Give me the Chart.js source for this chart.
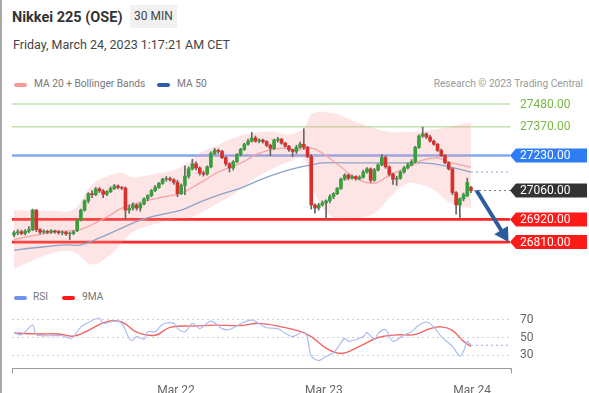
<!DOCTYPE html>
<html>
<head>
<meta charset="utf-8">
<script src="https://cdn.jsdelivr.net/npm/chart.js@4.4.0/dist/chart.umd.min.js"></script>
<style>
body { margin: 0; background: #fff; font-family: Roboto, "Noto Sans", Arial, sans-serif; }
#wrap { position: relative; width: 589px; height: 393px; overflow: hidden; }
#edge { position: absolute; left: 0; top: 0; width: 2px; height: 393px; background: #a8a8a8; }
.title { position: absolute; left: 12px; top: 9px; font-size: 14.5px; font-weight: bold; color: #333; }
.tf { position: absolute; left: 130px; top: 5px; width: 47px; height: 23px; line-height: 23px; background: #f1f1f1; font-size: 12px; color: #444; text-align: center; }
.date { position: absolute; left: 13px; top: 37px; font-size: 12.5px; color: #444; }
.lg { position: absolute; font-size: 10.2px; color: #777; white-space: nowrap; }
.sw { position: absolute; width: 13px; height: 4px; border-radius: 2px; }
.research { position: absolute; right: 6px; top: 78px; font-size: 10.2px; color: #999; }
canvas { position: absolute; left: 0; }
</style>
</head>
<body>
<div id="wrap">
  <div id="edge"></div>
  <div class="title">Nikkei 225 (OSE)</div>
  <div class="tf">30 MIN</div>
  <div class="date">Friday, March 24, 2023 1:17:21 AM CET</div>
  <div class="sw" style="left:14px;top:83px;background:#f89a9a"></div>
  <div class="lg" style="left:34px;top:78px;">MA 20 + Bollinger Bands</div>
  <div class="sw" style="left:157px;top:83px;background:#2f5ea8"></div>
  <div class="lg" style="left:177px;top:78px;">MA 50</div>
  <div class="research">Research © 2023 Trading Central</div>
  <canvas id="priceChart" width="589" height="180" style="top:95px"></canvas>
  <div class="sw" style="left:14px;top:296px;background:#6f93ee"></div>
  <div class="lg" style="left:33px;top:291px;">RSI</div>
  <div class="sw" style="left:62px;top:296px;background:#ff1a1a"></div>
  <div class="lg" style="left:82px;top:291px;">9MA</div>
  <canvas id="rsiChart" width="589" height="93" style="top:300px"></canvas>
</div>
<script>
// 30 min candles, index 0 = first bar on the chart
var opens = [26845,26855,26860,26852,26862,26870,26965,26870,26858,26862,26858,26864,26860,26856,26858,26850,26852,26866,26918,26965,
  27010,27045,27040,27068,27058,27042,27055,27070,27082,27075,27072,26965,26975,26990,26975,26995,27020,27035,27060,27075,
  27095,27115,27118,27112,27100,27045,27085,27130,27165,27190,27170,27145,27140,27175,27240,27255,27250,27220,27190,27170,
  27200,27235,27260,27285,27300,27315,27300,27305,27298,27280,27265,27305,27310,27290,27275,27258,27250,27270,27285,27270,
  27225,26990,26975,26990,27000,27010,27030,27045,27070,27115,27135,27120,27128,27118,27125,27150,27165,27110,27160,27185,
  27220,27175,27140,27115,27120,27150,27170,27185,27200,27270,27325,27335,27320,27300,27285,27255,27230,27195,27165,27050,
  26990,27020,27035,27075];
var highs = [26865,26870,26868,26870,26885,26970,26968,26875,26870,26868,26870,26868,26866,26864,26862,26858,26866,26922,26970,27015,
  27050,27060,27075,27075,27065,27060,27078,27090,27088,27080,27078,26990,27000,26995,27000,27025,27040,27065,27085,27100,
  27120,27128,27125,27118,27110,27092,27180,27175,27212,27200,27175,27155,27180,27248,27265,27262,27255,27225,27195,27205,
  27240,27265,27290,27310,27342,27325,27312,27310,27302,27285,27310,27318,27312,27295,27280,27262,27280,27295,27360,27275,
  27235,26995,26998,27010,27015,27040,27050,27075,27120,27142,27140,27135,27132,27132,27158,27172,27170,27168,27190,27235,
  27228,27180,27145,27130,27155,27178,27192,27210,27275,27330,27368,27340,27328,27305,27290,27262,27235,27200,27170,27055,
  27025,27048,27120,27080];
var lows = [26835,26845,26845,26845,26855,26865,26860,26850,26852,26850,26852,26852,26848,26845,26842,26822,26846,26860,26912,26960,
  27000,27025,27035,27050,27025,27035,27050,27065,27068,27065,26920,26950,26965,26965,26960,26990,27010,27030,27055,27070,
  27090,27105,27105,27090,27030,27040,27040,27120,27160,27160,27135,27130,27135,27170,27235,27240,27215,27180,27150,27160,
  27195,27230,27255,27280,27295,27295,27292,27290,27272,27230,27260,27295,27285,27270,27250,27225,27240,27265,27260,27220,
  26970,26950,26965,26985,26920,27000,27020,27040,27065,27110,27112,27115,27110,27112,27120,27145,27100,27105,27155,27180,
  27168,27130,27090,27085,27115,27145,27165,27180,27195,27265,27318,27312,27295,27280,27250,27225,27190,27160,27040,26945,
  26925,27010,27030,27050];
var closes = [26855,26860,26852,26862,26870,26965,26870,26858,26862,26858,26864,26860,26856,26858,26850,26852,26860,26918,26965,27010,
  27045,27040,27068,27058,27042,27055,27070,27082,27075,27072,26965,26975,26990,26975,26995,27020,27035,27060,27075,27095,
  27115,27118,27112,27100,27045,27085,27130,27165,27190,27170,27145,27140,27175,27240,27255,27250,27220,27190,27170,27200,
  27235,27260,27285,27300,27315,27300,27305,27298,27280,27265,27305,27310,27290,27275,27258,27250,27270,27285,27270,27225,
  26990,26975,26990,27000,27010,27030,27045,27070,27115,27135,27120,27128,27118,27125,27150,27165,27110,27160,27185,27220,
  27175,27140,27115,27120,27150,27170,27185,27200,27270,27325,27335,27320,27300,27285,27255,27230,27195,27165,27050,26990,
  27020,27040,27100,27060];

// moving averages and bands, read at chosen bar indexes
var ma20Idx = [0,5,12,16,18,21,26,29,34,39,45,50,55,61,66,72,76,80,83,88,92,97,101,106,110,114,117,123];
var ma20Vals = [26822,26840,26862,26865,26872,26894,26942,26975,27004,27024,27048,27096,27150,27193,27242,27266,27257,27266,27242,27174,27120,27096,27135,27174,27208,27218,27198,27174];
var ma50Idx = [0,5,14,18,23,29,34,39,45,50,55,61,66,72,77,80,83,92,101,110,115,123];
var ma50Vals = [26771,26781,26796,26796,26830,26878,26917,26941,26965,27004,27038,27072,27111,27150,27174,27184,27194,27194,27194,27194,27184,27150];
var bandIdx = [0,10,16,21,26,29,32,39,43,47,50,55,59,64,70,74,78,80,82,83,86,88,92,97,101,105,108,113,117,119,123];
var bandUpper = [26965,26962,26968,27087,27135,27145,27125,27145,27160,27198,27242,27281,27315,27340,27345,27332,27363,27430,27442,27442,27435,27425,27393,27363,27345,27343,27345,27355,27370,27378,27388];
var bandLower = [26679,26754,26762,26701,26749,26805,26859,26903,26920,26926,26950,27000,27040,27110,27170,27200,27215,27087,27010,26975,26927,26925,26927,26950,27024,27087,27096,27063,27004,26990,26975];

// RSI panel
var rsiIdx = [0,2,5,6,9,13,15,16,18,20,23,24,27,29,31,32,33,35,36,38,40,43,44,46,48,50,53,56,58,61,64,66,68,71,73,75,78,79,80,82,84,86,87,89,90,92,94,95,97,98,100,102,105,107,109,111,113,115,118,120,121,122,123];
var rsiVals = [55.5,53,64,53,52,52,49,51,62,67,72,65.6,68.5,66,49,47,51,48,56.5,56.5,65,66,60,56.5,66,60,68.5,60,59,65.6,70,65.6,61,60,54.7,51,56.5,49,29,24,28.5,33,38,49,45.6,47.5,51,55.5,47.5,54.7,59,45.6,53,56.5,64,67.5,62,51,40,29,34.7,45.6,41];
var ma9Idx = [0,7,12,16,20,25,29,33,38,42,49,54,61,66,72,77,80,84,88,93,98,103,108,112,115,118,121,123];
var ma9Vals = [55,54,54,51.5,58,68,67.5,56,52.5,61.5,63,64,63.5,66,62,57,51,38,32,40,50,53,53.5,60,62,58,45.6,40];
var rsiLevels = [30, 50, 70];

// key levels
var resistances = [27480, 27370];
var pivot = 27230;
var supports = [26920, 26810];
var lastPrice = 27060;
var targetPrice = 26810;

// date ticks (bar index of midnight)
var tickIndex = [43.6, 83.4, 123.3];
var tickLabels = ['Mar 22', 'Mar 23', 'Mar 24'];

var xMin = -0.54, xMax = 133.5;

function pairs(xs, ys) {
  return xs.map(function(x, i) { return {x: x, y: ys[i]}; });
}

var bodies = [], wicks = [], bodyColors = [];
closes.forEach(function(c, i) {
  bodies.push({x: i, y: [opens[i], c]});
  wicks.push({x: i, y: [lows[i], highs[i]]});
  bodyColors.push(c >= opens[i] ? '#36a03a' : '#d8302c');
});

function drawTag(ctx, right, y, text, bg) {
  var x0 = right, x1 = right + 6, x2 = 587, h = 14;
  ctx.fillStyle = bg;
  ctx.beginPath();
  ctx.moveTo(x0, y);
  ctx.lineTo(x1, y - h / 2);
  ctx.lineTo(x2, y - h / 2);
  ctx.lineTo(x2, y + h / 2);
  ctx.lineTo(x1, y + h / 2);
  ctx.closePath();
  ctx.fill();
  ctx.fillStyle = '#fff';
  ctx.font = '12px Roboto';
  ctx.textAlign = 'left';
  ctx.textBaseline = 'middle';
  ctx.fillText(text, right + 10, y + 0.5);
}

function hline(ctx, area, y, color, width, dash) {
  ctx.save();
  ctx.strokeStyle = color;
  ctx.lineWidth = width;
  ctx.setLineDash(dash || []);
  ctx.beginPath();
  ctx.moveTo(area.left, y);
  ctx.lineTo(area.right, y);
  ctx.stroke();
  ctx.restore();
}

var levelsPlugin = {
  id: 'levels',
  beforeDatasetsDraw: function(chart) {
    var ctx = chart.ctx, a = chart.chartArea, ys = chart.scales.y;
    resistances.forEach(function(v) { hline(ctx, a, ys.getPixelForValue(v), '#c3e2ab', 1.5); });
    hline(ctx, a, ys.getPixelForValue(pivot), '#7fa7f6', 2.5);
    supports.forEach(function(v) { hline(ctx, a, ys.getPixelForValue(v), '#ff2626', 2.7); });
  },
  afterDraw: function(chart) {
    var ctx = chart.ctx, a = chart.chartArea, xs = chart.scales.x, ys = chart.scales.y;
    var last = closes.length - 1;
    // dotted continuations
    ctx.save();
    ctx.setLineDash([2, 3]);
    ctx.lineWidth = 1;
    ctx.strokeStyle = '#777';
    var yl = ys.getPixelForValue(lastPrice);
    ctx.beginPath(); ctx.moveTo(xs.getPixelForValue(last + 0.8), yl); ctx.lineTo(a.right, yl); ctx.stroke();
    ctx.strokeStyle = '#8ea2c8';
    var ym = ys.getPixelForValue(ma50Vals[ma50Vals.length - 1]);
    ctx.beginPath(); ctx.moveTo(xs.getPixelForValue(ma50Idx[ma50Idx.length - 1]), ym); ctx.lineTo(a.right, ym); ctx.stroke();
    ctx.restore();

    // projection arrow
    var x1 = xs.getPixelForValue(last + 1.5), y1 = yl;
    var x2 = xs.getPixelForValue(xMax - 0.4), y2 = ys.getPixelForValue(targetPrice);
    var ang = Math.atan2(y2 - y1, x2 - x1);
    ctx.save();
    ctx.strokeStyle = '#2c5c9e';
    ctx.fillStyle = '#2c5c9e';
    ctx.lineWidth = 4;
    ctx.lineCap = 'butt';
    ctx.beginPath();
    ctx.moveTo(x1, y1);
    ctx.lineTo(x2 - 10 * Math.cos(ang), y2 - 10 * Math.sin(ang));
    ctx.stroke();
    ctx.beginPath();
    ctx.moveTo(x2, y2);
    ctx.lineTo(x2 - 14 * Math.cos(ang) + 8 * Math.sin(ang), y2 - 14 * Math.sin(ang) - 8 * Math.cos(ang));
    ctx.lineTo(x2 - 14 * Math.cos(ang) - 8 * Math.sin(ang), y2 - 14 * Math.sin(ang) + 8 * Math.cos(ang));
    ctx.closePath();
    ctx.fill();
    ctx.restore();

    // price labels on the right
    ctx.save();
    ctx.font = '12px Roboto';
    ctx.textBaseline = 'middle';
    ctx.fillStyle = '#78b845';
    resistances.forEach(function(v) {
      ctx.fillText(v.toFixed(2), a.right + 10, ys.getPixelForValue(v) + 0.5);
    });
    ctx.restore();
    drawTag(ctx, a.right, ys.getPixelForValue(pivot), pivot.toFixed(2), '#2f7df4');
    drawTag(ctx, a.right, yl, lastPrice.toFixed(2), '#333333');
    supports.forEach(function(v) {
      drawTag(ctx, a.right, ys.getPixelForValue(v), v.toFixed(2), '#ff1a1a');
    });
  }
};

new Chart(document.getElementById('priceChart'), {
  type: 'bar',
  data: {
    datasets: [
      {type: 'line', data: pairs(bandIdx, bandUpper), borderWidth: 0, pointRadius: 0, tension: 0.4,
        fill: '+1', backgroundColor: 'rgba(250,150,150,0.25)', order: 6},
      {type: 'line', data: pairs(bandIdx, bandLower), borderWidth: 0, pointRadius: 0, tension: 0.4,
        fill: false, order: 5},
      {type: 'line', data: pairs(ma20Idx, ma20Vals), borderColor: '#f6a3a3', borderWidth: 1.3,
        pointRadius: 0, tension: 0.4, fill: false, order: 3},
      {type: 'line', data: pairs(ma50Idx, ma50Vals), borderColor: '#8ea2c8', borderWidth: 1.3,
        pointRadius: 0, tension: 0.4, fill: false, order: 4},
      {data: wicks, backgroundColor: '#666', barThickness: 1, grouped: false, order: 2},
      {data: bodies, backgroundColor: bodyColors, barThickness: 3, grouped: false, order: 1}
    ]
  },
  options: {
    responsive: false,
    animation: false,
    layout: {padding: {left: 12, right: 79, top: 0, bottom: 0}},
    plugins: {legend: {display: false}, tooltip: {enabled: false}},
    scales: {
      x: {type: 'linear', min: xMin, max: xMax, offset: false, display: false},
      y: {min: 26650, max: 27524, display: false}
    }
  },
  plugins: [levelsPlugin]
});

var rsiPlugin = {
  id: 'rsiExtras',
  afterDraw: function(chart) {
    var ctx = chart.ctx, a = chart.chartArea, xs = chart.scales.x, ys = chart.scales.y;
    ctx.save();
    ctx.strokeStyle = '#a9bdf3';
    ctx.lineWidth = 1.2;
    ctx.setLineDash([2, 3]);
    var y = ys.getPixelForValue(rsiVals[rsiVals.length - 1]);
    ctx.beginPath();
    ctx.moveTo(xs.getPixelForValue(rsiIdx[rsiIdx.length - 1]), y);
    ctx.lineTo(a.right, y);
    ctx.stroke();
    ctx.setLineDash([]);
    ctx.strokeStyle = '#999';
    ctx.lineWidth = 1;
    ctx.beginPath();
    ctx.moveTo(a.left + 0.5, a.bottom); ctx.lineTo(a.left + 0.5, a.bottom + 5);
    ctx.moveTo(a.right + 1.5, a.bottom); ctx.lineTo(a.right + 1.5, a.bottom + 5);
    ctx.moveTo(a.right, a.bottom + 0.5); ctx.lineTo(a.right + 2, a.bottom + 0.5);
    ctx.stroke();
    ctx.restore();
  }
};

new Chart(document.getElementById('rsiChart'), {
  type: 'line',
  data: {
    datasets: [
      {data: pairs(rsiIdx, rsiVals), borderColor: '#a9bdf3', borderWidth: 1.2, pointRadius: 0, tension: 0.3},
      {data: pairs(ma9Idx, ma9Vals), borderColor: '#f26464', borderWidth: 1.4, pointRadius: 0, tension: 0.4}
    ]
  },
  options: {
    responsive: false,
    animation: false,
    layout: {padding: {left: 12, top: 6.5, right: 0, bottom: 0}},
    plugins: {legend: {display: false}, tooltip: {enabled: false}},
    scales: {
      x: {
        type: 'linear', min: xMin, max: xMax, offset: false,
        grid: {display: false},
        border: {display: true, color: '#999', width: 1},
        afterBuildTicks: function(s) { s.ticks = tickIndex.map(function(v) { return {value: v}; }); },
        afterFit: function(s) { s.height = 24.5; s.paddingLeft = 0; s.paddingRight = 0; },
        ticks: {
          autoSkip: false, maxRotation: 0, padding: 7, color: '#666',
          font: {family: 'Roboto', size: 12},
          callback: function(v) { return tickLabels[tickIndex.indexOf(v)]; }
        }
      },
      y: {
        position: 'right', min: 15, max: 85,
        afterBuildTicks: function(s) { s.ticks = rsiLevels.map(function(v) { return {value: v}; }); },
        afterFit: function(s) { s.width = 79; s.paddingTop = 0; s.paddingBottom = 0; },
        grid: {color: '#cfcfcf', drawTicks: false},
        border: {display: false, dash: [2, 3]},
        ticks: {padding: 10, color: '#666', font: {family: 'Roboto', size: 12}}
      }
    }
  },
  plugins: [rsiPlugin]
});
</script>
</body>
</html>
